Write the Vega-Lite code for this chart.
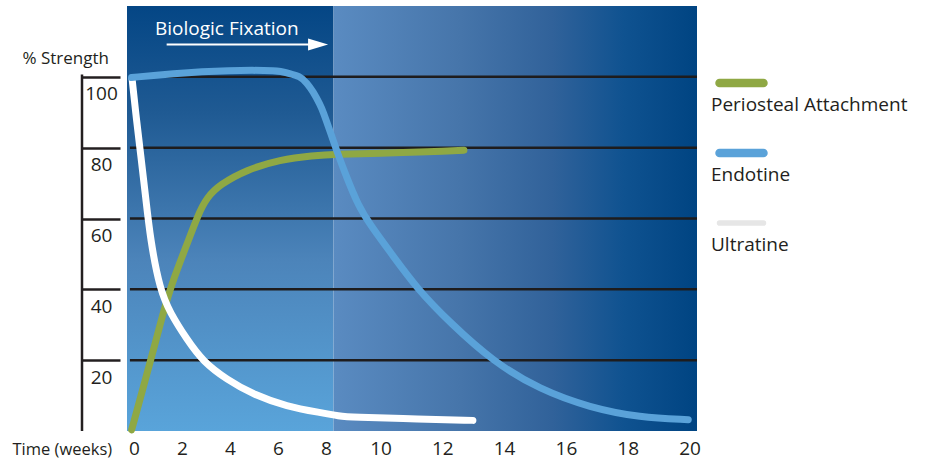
{
  "$schema": "https://vega.github.io/schema/vega-lite/v6.json",
  "width": 570,
  "height": 425,
  "autosize": "none",
  "padding": {"left": 127, "top": 6, "right": 229, "bottom": 27},
  "background": "white",
  "config": {"view": {"stroke": null}, "font": "Open Sans", "style": {"guide-label": {"lineHeight": 13}}},
  "datasets": {
    "curves": [
      {"series": "Periosteal Attachment", "week": -0.1, "strength": 0.3},
      {"series": "Periosteal Attachment", "week": 0.67, "strength": 19.3},
      {"series": "Periosteal Attachment", "week": 1.21, "strength": 33.4},
      {"series": "Periosteal Attachment", "week": 1.63, "strength": 42.7},
      {"series": "Periosteal Attachment", "week": 2.2, "strength": 52.6},
      {"series": "Periosteal Attachment", "week": 2.67, "strength": 61.1},
      {"series": "Periosteal Attachment", "week": 3.03, "strength": 65.9},
      {"series": "Periosteal Attachment", "week": 3.58, "strength": 69.6},
      {"series": "Periosteal Attachment", "week": 4.7, "strength": 73.8},
      {"series": "Periosteal Attachment", "week": 6.08, "strength": 76.6},
      {"series": "Periosteal Attachment", "week": 7.46, "strength": 77.8},
      {"series": "Periosteal Attachment", "week": 8.39, "strength": 78.2},
      {"series": "Periosteal Attachment", "week": 9.98, "strength": 78.4},
      {"series": "Periosteal Attachment", "week": 11.6, "strength": 78.8},
      {"series": "Periosteal Attachment", "week": 12.7, "strength": 79.3},
      {"series": "Ultratine", "week": -0.08, "strength": 99.4},
      {"series": "Ultratine", "week": 0.1, "strength": 88},
      {"series": "Ultratine", "week": 0.28, "strength": 78},
      {"series": "Ultratine", "week": 0.47, "strength": 67},
      {"series": "Ultratine", "week": 0.68, "strength": 54},
      {"series": "Ultratine", "week": 1.08, "strength": 39.9},
      {"series": "Ultratine", "week": 1.5, "strength": 33.4},
      {"series": "Ultratine", "week": 2.21, "strength": 25.8},
      {"series": "Ultratine", "week": 2.875, "strength": 19.6},
      {"series": "Ultratine", "week": 3.875, "strength": 14.5},
      {"series": "Ultratine", "week": 4.96, "strength": 10.3},
      {"series": "Ultratine", "week": 6.375, "strength": 6.9},
      {"series": "Ultratine", "week": 7.75, "strength": 5.2},
      {"series": "Ultratine", "week": 8.51, "strength": 4.2},
      {"series": "Ultratine", "week": 8.88, "strength": 3.9},
      {"series": "Ultratine", "week": 11.28, "strength": 3.4},
      {"series": "Ultratine", "week": 12.99, "strength": 3.0},
      {"series": "Endotine", "week": -0.1, "strength": 99.8},
      {"series": "Endotine", "week": 1.5, "strength": 100.9},
      {"series": "Endotine", "week": 4.0, "strength": 101.9},
      {"series": "Endotine", "week": 6.08, "strength": 101.8},
      {"series": "Endotine", "week": 6.36, "strength": 101.1},
      {"series": "Endotine", "week": 6.92, "strength": 100.2},
      {"series": "Endotine", "week": 7.2, "strength": 98.3},
      {"series": "Endotine", "week": 7.46, "strength": 95.9},
      {"series": "Endotine", "week": 7.75, "strength": 92.2},
      {"series": "Endotine", "week": 7.875, "strength": 90.3},
      {"series": "Endotine", "week": 8.15, "strength": 84.6},
      {"series": "Endotine", "week": 8.44, "strength": 78.1},
      {"series": "Endotine", "week": 8.76, "strength": 71.6},
      {"series": "Endotine", "week": 9.17, "strength": 63.9},
      {"series": "Endotine", "week": 9.61, "strength": 58.3},
      {"series": "Endotine", "week": 10.35, "strength": 50.1},
      {"series": "Endotine", "week": 11.21, "strength": 39.9},
      {"series": "Endotine", "week": 12.25, "strength": 30.6},
      {"series": "Endotine", "week": 13.64, "strength": 19.6},
      {"series": "Endotine", "week": 15.16, "strength": 11.7},
      {"series": "Endotine", "week": 16.78, "strength": 6.6},
      {"series": "Endotine", "week": 18.4, "strength": 3.8},
      {"series": "Endotine", "week": 19.96, "strength": 3.2}
    ],
    "grid": [{"strength": 20}, {"strength": 40}, {"strength": 60}, {"strength": 80}, {"strength": 100}]
  },
  "layer": [
    {
      "data": {"name": "curves"},
      "transform": [{"filter": "false"}],
      "mark": {"type": "point", "filled": true, "opacity": 1, "shape": "M-0.86,-0.14L0.86,-0.14A0.14,0.14 0 0 1 0.86,0.14L-0.86,0.14A0.14,0.14 0 0 1 -0.86,-0.14Z"},
      "encoding": {
        "color": {
          "field": "series", "type": "nominal",
          "scale": {"domain": ["Periosteal Attachment", "Endotine", "Ultratine"], "range": ["#8fa844", "#5aa2d9", "#e6e6e6"]},
          "legend": {
            "orient": "none", "legendX": 588, "legendY": 50.5, "title": null, "padding": 0,
            "symbolType": "M-0.86,-0.14L0.86,-0.14A0.14,0.14 0 0 1 0.86,0.14L-0.86,0.14A0.14,0.14 0 0 1 -0.86,-0.14Z",
            "symbolSize": 2600, "symbolOpacity": 1,
            "labelExpr": "['', datum.label]", "labelBaseline": "top", "labelOffset": -57,
            "labelFontSize": 19, "labelFont": "Open Sans", "labelColor": "#231f20", "labelLimit": 400,
            "rowPadding": 11
          }
        }
      }
    },
    {
      "data": {"values": [{}]},
      "mark": {"type": "rect", "color": {"gradient": "linear", "x1": 0, "y1": 0, "x2": 0, "y2": 1,
        "stops": [{"offset": 0, "color": "#044685"}, {"offset": 0.25, "color": "#1f5a93"}, {"offset": 0.6, "color": "#4c84ba"}, {"offset": 1, "color": "#59a4da"}]}},
      "encoding": {
        "x": {"datum": -0.292, "type": "quantitative"},
        "x2": {"datum": 8.275},
        "y": {"datum": 0, "type": "quantitative"},
        "y2": {"datum": 120}
      }
    },
    {
      "data": {"values": [{}]},
      "mark": {"type": "rect", "color": {"gradient": "linear", "x1": 0, "y1": 0, "x2": 1, "y2": 0,
        "stops": [{"offset": 0, "color": "#5a8bc1"}, {"offset": 0.35, "color": "#4675aa"}, {"offset": 0.6, "color": "#31629a"}, {"offset": 0.8, "color": "#0f5290"}, {"offset": 1, "color": "#004482"}]}},
      "encoding": {
        "x": {"datum": 8.275, "type": "quantitative"},
        "x2": {"datum": 20.243},
        "y": {"datum": 0, "type": "quantitative"},
        "y2": {"datum": 120}
      }
    },
    {
      "data": {"name": "grid"},
      "mark": {"type": "rule", "color": "#1e1c1d", "strokeWidth": 2.5},
      "encoding": {
        "x": {"datum": -0.17, "type": "quantitative"},
        "x2": {"datum": 20.243},
        "y": {"field": "strength", "type": "quantitative"}
      }
    },
    {
      "data": {"values": [{}]},
      "mark": {"type": "rule", "color": "#231f20", "strokeWidth": 2.5},
      "encoding": {
        "x": {"datum": -2.167, "type": "quantitative"},
        "y": {"datum": 0, "type": "quantitative"},
        "y2": {"datum": 100.65}
      }
    },
    {
      "data": {"name": "curves"},
      "transform": [{"filter": "datum.series == 'Periosteal Attachment'"}],
      "mark": {"type": "line", "interpolate": "basis", "strokeWidth": 7, "strokeCap": "round", "strokeJoin": "round"},
      "encoding": {
        "x": {
          "field": "week", "type": "quantitative",
          "scale": {"domain": [-0.292, 8, 10, 20.243], "range": [0, 199, 253.5, 570], "nice": false, "zero": false},
          "axis": {
            "values": [0, 2, 4, 6, 8, 10, 12, 14, 16, 18, 20],
            "domain": false, "grid": false, "ticks": false, "tickSize": 0,
            "labelPadding": 23, "labelBaseline": "alphabetic", "labelFontSize": 19, "labelColor": "#231f20",
            "labelFont": "Open Sans", "labelFlush": false, "labelOverlap": false, "labelBound": false,
            "title": "Time (weeks)", "titleX": -115, "titleY": 23, "titleAlign": "left", "titleBaseline": "alphabetic",
            "titleAnchor": "start", "titleFontSize": 16.5, "titleFontWeight": "normal", "titleColor": "#231f20", "titleFont": "Open Sans"
          }
        },
        "y": {
          "field": "strength", "type": "quantitative",
          "scale": {"domain": [0, 120], "nice": false, "zero": false},
          "axis": {
            "values": [20, 40, 60, 80, 100],
            "domain": false, "grid": false, "ticks": true, "tickSize": 38, "tickWidth": 2.5, "tickColor": "#231f20",
            "offset": 7, "labelAlign": "center", "labelBaseline": "alphabetic", "labelPadding": -19,
            "labelOffset": 23, "labelFontSize": 19, "labelColor": "#231f20", "labelFont": "Open Sans",
            "labelOverlap": false, "labelFlush": false, "labelBound": false,
            "title": "% Strength", "titleAngle": 0, "titleAlign": "left", "titleBaseline": "alphabetic",
            "titleX": -98, "titleY": 57, "titleFontSize": 17, "titleFontWeight": "normal", "titleColor": "#231f20", "titleFont": "Open Sans"
          }
        },
        "stroke": {
          "field": "series", "type": "nominal",
          "scale": {"domain": ["Periosteal Attachment", "Endotine", "Ultratine"], "range": ["#8fa844", "#5aa2d9", "#ffffff"]},
          "legend": null
        }
      }
    },
    {
      "data": {"name": "curves"},
      "transform": [{"filter": "datum.series == 'Ultratine'"}],
      "mark": {"type": "line", "interpolate": "basis", "strokeWidth": 7, "strokeCap": "round", "strokeJoin": "round"},
      "encoding": {
        "x": {"field": "week", "type": "quantitative"},
        "y": {"field": "strength", "type": "quantitative"},
        "stroke": {"field": "series", "type": "nominal", "legend": null}
      }
    },
    {
      "data": {"name": "curves"},
      "transform": [{"filter": "datum.series == 'Endotine'"}],
      "mark": {"type": "line", "interpolate": "basis", "strokeWidth": 7, "strokeCap": "round", "strokeJoin": "round"},
      "encoding": {
        "x": {"field": "week", "type": "quantitative"},
        "y": {"field": "strength", "type": "quantitative"},
        "stroke": {"field": "series", "type": "nominal", "legend": null}
      }
    },
    {
      "data": {"values": [{}]},
      "mark": {"type": "rule", "color": "white", "strokeWidth": 2},
      "encoding": {
        "x": {"datum": 1.36, "type": "quantitative"},
        "x2": {"datum": 7.45},
        "y": {"datum": 109.1, "type": "quantitative"}
      }
    },
    {
      "data": {"values": [{}]},
      "mark": {"type": "point", "filled": true, "opacity": 1, "color": "white", "shape": "M-1,-0.6L1,0L-1,0.6Z", "size": 400},
      "encoding": {
        "x": {"datum": 7.67, "type": "quantitative"},
        "y": {"datum": 109.1, "type": "quantitative"}
      }
    },
    {
      "data": {"values": [{}]},
      "mark": {"type": "text", "text": "Biologic Fixation", "color": "white", "fontSize": 19, "font": "Open Sans", "align": "left", "baseline": "alphabetic"},
      "encoding": {
        "x": {"datum": 0.875, "type": "quantitative"},
        "y": {"datum": 111.75, "type": "quantitative"}
      }
    }
  ]
}
